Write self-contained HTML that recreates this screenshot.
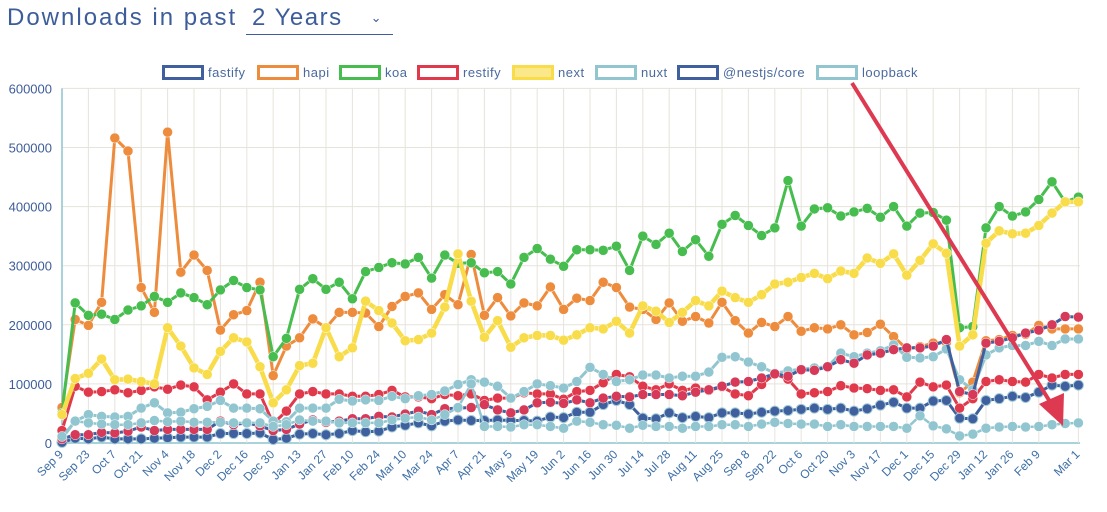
<!DOCTYPE html>
<html><head><meta charset="utf-8"><style>
body{margin:0;background:#fff;width:1107px;height:512px;overflow:hidden;font-family:"Liberation Sans",sans-serif}
#title{position:absolute;left:7px;top:4px;font-size:24px;letter-spacing:2px;color:#3d5d9a}
#sel{position:absolute;left:246px;top:4px;width:147px;height:30px;border-bottom:1.5px solid #3d5d9a;color:#3d5d9a;font-size:24px;letter-spacing:1.5px}
#sel span{position:absolute;left:6px;top:0}
#sel i{position:absolute;right:10px;top:6px;font-style:normal;font-size:13px}
svg{position:absolute;left:0;top:0}
</style></head><body>
<div id="title">Downloads in past</div>
<div id="sel"><span>2 Years</span><i>⌄</i></div>
<svg id="c" width="1107" height="512"></svg>
<script>
const labels=["Sep 9","Sep 23","Oct 7","Oct 21","Nov 4","Nov 18","Dec 2","Dec 16","Dec 30","Jan 13","Jan 27","Feb 10","Feb 24","Mar 10","Mar 24","Apr 7","Apr 21","May 5","May 19","Jun 2","Jun 16","Jun 30","Jul 14","Jul 28","Aug 11","Aug 25","Sep 8","Sep 22","Oct 6","Oct 20","Nov 3","Nov 17","Dec 1","Dec 15","Dec 29","Jan 12","Jan 26","Feb 9","Mar 1"];
const labelIdx=[0,2,4,6,8,10,12,14,16,18,20,22,24,26,28,30,32,34,36,38,40,42,44,46,48,50,52,54,56,58,60,62,64,66,68,70,72,74,77];
const yTicks=[0,100000,200000,300000,400000,500000,600000];
const names=["fastify","hapi","koa","restify","next","nuxt","@nestjs/core","loopback"];
const fastify=[1,8,7,10,7,7,7,8,9,10,10,10,16,16,16,17,6,8,15,16,14,16,21,19,20,27,30,34,29,37,39,38,38,39,38,38,37,44,43,52,52,65,72,65,42,41,51,43,45,43,51,51,49,52,54,55,57,59,57,59,54,58,64,69,59,59,71,72,42,41,72,75,79,77,86,98,96,98];
const hapi=[60,209,199,238,516,494,263,221,526,289,318,292,191,217,224,272,114,164,178,210,195,221,221,220,197,231,248,254,226,251,234,319,216,246,215,237,232,264,226,245,241,272,263,230,226,209,237,206,214,203,238,207,186,204,197,214,189,195,193,200,183,187,201,180,159,163,169,170,85,103,173,175,182,184,199,193,193,193];
const koa=[50,237,216,218,209,225,232,248,238,254,246,234,259,275,263,259,146,177,260,278,260,272,244,290,297,305,303,314,279,318,304,305,288,290,269,314,329,311,299,327,327,326,333,292,350,336,355,324,344,316,370,385,368,351,364,444,367,396,398,384,391,397,382,400,367,389,390,377,195,197,364,400,384,391,412,442,408,416];
const restify=[21,96,86,87,90,85,89,95,91,98,95,73,86,100,83,83,33,54,83,87,83,83,79,79,82,89,78,78,75,82,80,83,72,76,76,85,83,83,74,87,89,102,116,112,96,90,100,89,93,89,95,83,80,99,117,108,83,85,87,97,93,92,89,90,78,103,95,98,59,75,104,107,104,103,116,110,116,116];
const next=[48,109,118,142,107,108,104,100,195,164,127,116,155,178,171,129,68,90,131,135,195,146,161,240,224,203,173,175,186,230,320,240,179,207,162,178,182,182,174,183,195,193,206,186,232,223,204,221,241,232,257,246,238,251,269,272,280,287,278,291,287,313,304,320,284,309,337,321,164,183,338,359,354,355,368,389,408,408];
const nuxt=[8,37,48,45,44,45,59,68,51,52,58,62,72,59,59,58,37,36,59,59,59,74,71,73,72,79,75,80,82,88,99,107,103,96,76,87,100,97,93,104,128,116,104,107,115,115,110,113,113,120,145,146,137,129,118,122,125,127,129,152,146,152,156,166,145,144,146,159,107,90,149,161,165,165,172,165,176,176];
const nestjs=[7,14,14,18,17,20,27,21,23,23,23,23,37,31,34,29,21,23,32,39,35,37,41,41,45,44,49,54,48,58,59,60,65,56,51,56,68,69,67,73,68,76,79,78,82,82,82,80,86,90,96,103,104,110,117,113,124,123,129,141,135,149,152,158,161,161,164,175,87,82,169,172,178,186,191,200,214,213];
const loopback=[11,37,34,32,31,31,34,38,36,37,35,35,35,34,34,34,28,31,39,37,37,34,34,34,34,39,42,44,39,48,60,100,28,28,27,31,31,28,25,37,35,31,30,25,30,28,28,25,28,28,31,31,28,32,35,33,32,32,28,31,28,28,28,28,25,46,29,24,12,15,25,27,28,27,28,31,33,34];
const series=[fastify,hapi,koa,restify,next,nuxt,nestjs,loopback];
const styles=[
 {c:"#3f5f9e",f:"#3f5f9e",w:3,o:"#9fc9d4"},
 {c:"#ee8c3e",f:"#ee8c3e",w:3},
 {c:"#46bd4e",f:"#46bd4e",w:3},
 {c:"#e0394c",f:"#e0394c",w:3},
 {c:"#f8dc4a",f:"#f8dc4a",w:4.5},
 {c:"#91c6d0",f:"#91c6d0",w:3},
 {c:"#3f5f9e",f:"#d63a58",w:3},
 {c:"#91c6d0",f:"#91c6d0",w:2.5}];
const X0=62,DX=13.2,Y0=443,YS=59.1/100000;
const xs=i=>X0+i*DX, ys=v=>Y0-v*YS;
const svg=document.getElementById('c'),NS="http://www.w3.org/2000/svg";
function mk(t,a,p){const e=document.createElementNS(NS,t);for(const k in a)e.setAttribute(k,a[k]);(p||svg).appendChild(e);return e;}
yTicks.forEach(v=>{
 const l=mk('line',{x1:X0,x2:1080,y1:ys(v),y2:ys(v),stroke:v?"#e6e3da":"#8ec4cf","stroke-width":v?1:1.5});
 
 
 const t=mk('text',{x:52,y:ys(v)+5,"text-anchor":"end","font-size":13,fill:"#3d5d9a"});t.textContent=v;
 
 
});
labelIdx.forEach((i,k)=>{
 const x=xs(i);
 const l=mk('line',{x1:x,x2:x,y1:ys(600000),y2:Y0,stroke:"#e6e3da"});
 
 
 const t=mk('text',{x:x+2,y:Y0+12,"text-anchor":"end","font-size":12,fill:"#3d6fa6",transform:`rotate(-45 ${x+2} ${Y0+12})`});t.textContent=labels[k];
 
 
});
mk('line',{x1:X0,x2:X0,y1:ys(600000),y2:Y0,stroke:"#8ec4cf","stroke-width":1.5});
series.forEach((d,s)=>{
 const st=styles[s];
 const g=mk('g',{});
 
 
 const pts=d.map((v,i)=>xs(i).toFixed(1)+","+ys(v*1000).toFixed(1)).join(" ");
 const p=mk('polyline',{points:pts,fill:"none",stroke:st.c,"stroke-width":st.w,"stroke-linejoin":"round"},g);
 
 
 d.forEach((v,i)=>{
  const c=mk('circle',{cx:xs(i),cy:ys(v*1000),r:5,fill:st.f,stroke:st.o||"#fff","stroke-width":st.o?1:0.5},g);
  
  
 });
});
const lx=[162,257,339,417,512,595,677,816];
const lb=["#3f5f9e","#ee8c3e","#46bd4e","#e0394c","#f8dc4a","#91c6d0","#3f5f9e","#91c6d0"];
names.forEach((n,k)=>{
 const g=mk('g',{});
 
 
 mk('rect',{x:lx[k]+1.5,y:66.5,width:39,height:12,fill:k==4?"#fbe88a":"#fff",stroke:lb[k],"stroke-width":3},g);
 const t=mk('text',{x:lx[k]+46,y:77,"font-size":13,fill:"#4a6a9e","letter-spacing":"0.5"},g);t.textContent=n;
});
const a=mk('g',{});


mk('line',{x1:852,y1:83,x2:1052,y2:405,stroke:"#dd3a52","stroke-width":4},a);
mk('polygon',{points:"1063,426 1039,404 1064,393",fill:"#dd3a52"},a);
</script>
</body></html>
